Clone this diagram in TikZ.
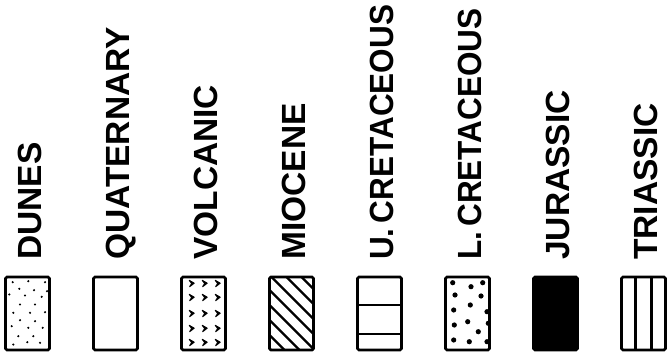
\documentclass[tikz,border=0pt]{standalone}
\usepackage{fontspec}
\usepackage{graphicx}
\setmainfont{Liberation Sans}
\usetikzlibrary{positioning}

\tikzset{
    unit/.style={draw, line width=2.8pt, rounded corners=1.5pt, minimum width=44pt,
        minimum height=73pt, inner sep=0pt, outer sep=0pt},
    unitname/.style={rotate=90, anchor=base west, inner sep=0pt,
        font=\fontsize{33.5}{34}\selectfont\bfseries},
    hatch/.style={line width=2.3pt},
}

\begin{document}
\begin{tikzpicture}[x=1pt, y=1pt]
    \useasboundingbox (0,0) rectangle (668,361);

    % Legend boxes, left to right
    \node[unit] (dunes) at (27.5,47.5) {};
    \node[unit, right=44pt of dunes] (quaternary) {};
    \node[unit, right=44pt of quaternary] (volcanic) {};
    \node[unit, right=44pt of volcanic] (miocene) {};
    \node[unit, right=44pt of miocene] (ucret) {};
    \node[unit, right=44pt of ucret] (lcret) {};
    \node[unit, fill=black, right=44pt of lcret] (jurassic) {};
    \node[unit, right=44pt of jurassic] (triassic) {};

    % Unit names, set upright above each box
    \foreach \b/\t in {dunes/DUNES, quaternary/QUATERNARY, volcanic/VOLCANIC,
        miocene/MIOCENE, ucret/{\scalebox{0.94}[1]{U.\,CRETACEOUS}},
        lcret/{\scalebox{0.94}[1]{L.\,CRETACEOUS}}, jurassic/JURASSIC, triassic/TRIASSIC}
        \node[unitname] (\b-name) at ([shift={(14pt,17pt)}]\b.north) {\t};

    % Dunes: fine stipple
    \begin{scope}[shift={(dunes.center)}]
        \foreach \p in {(-14.8,31.3), (0.8,32.3), (17.5,31.3), (-8.2,24.7), (6.5,23.3),
            (19.5,22.3), (-18.2,19), (-2.5,18), (14.2,16.7), (-7.5,9), (7.5,9),
            (-14.2,0.7), (2.5,0.7), (17.5,1.3), (-7.5,-6.7), (7.5,-7.7), (-15.8,-12.7),
            (0.8,-14.3), (15.2,-14.3), (-9.2,-22.7), (5.8,-22.7), (-14.2,-31),
            (-0.2,-28.7), (12.5,-29.3)}
            \fill \p circle (1.2);
    \end{scope}

    % Volcanic: rows of small ticks
    \begin{scope}[shift={(volcanic.center)}]
        \foreach \x in {-12,1,14}
            \foreach \y in {30,16,0,-15,-29}
                \filldraw[line width=1.1pt, line join=round] (\x,\y) +(-2.2,3.1) -- +(2.6,0.3)
                    -- +(-1.8,-3.1) -- +(0.3,0) -- cycle;
    \end{scope}

    % Miocene: diagonal hatching
    \begin{scope}[shift={(miocene.center)}]
        \clip (-22,-36.5) rectangle (22,36.5);
        \foreach \c in {46.5,31.5,...,-58.5}
            \draw[hatch] (-30,{\c+30}) -- (30,{\c-30});
    \end{scope}

    % U. Cretaceous: two bands
    \begin{scope}[shift={(ucret.center)}]
        \draw[hatch] (-22,8.5) -- (22,8.5);
        \draw[hatch] (-22,-20.5) -- (22,-20.5);
    \end{scope}

    % L. Cretaceous: coarse dots
    \begin{scope}[shift={(lcret.center)}]
        \foreach \p in {(-14.8,30.8), (3.5,26.8), (15.2,30.8), (-12.5,18.5), (13.5,17.5),
            (2.8,8.5), (-13.8,3.5), (19.5,1.8), (0.2,-8.2), (-13.2,-11.5), (20.8,-9.8),
            (10.8,-18.2), (-13.8,-26.5), (1.8,-28.2), (19.5,-28.2)}
            \fill \p circle (2.6);
    \end{scope}

    % Triassic: vertical bands
    \begin{scope}[shift={(triassic.center)}]
        \draw[hatch] (-8,-36.5) -- (-8,36.5);
        \draw[hatch] (8,-36.5) -- (8,36.5);
    \end{scope}
\end{tikzpicture}
\end{document}
